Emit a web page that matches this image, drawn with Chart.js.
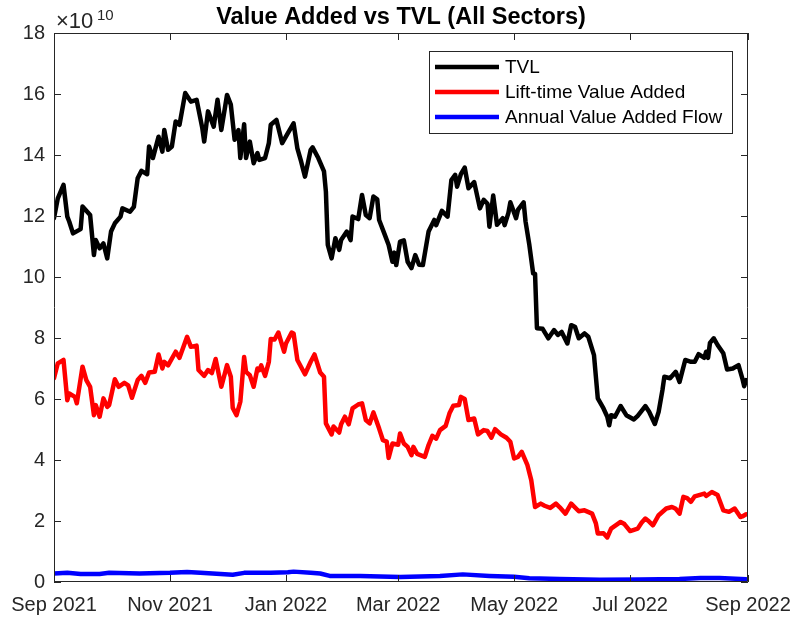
<!DOCTYPE html>
<html>
<head>
<meta charset="utf-8">
<script src="https://cdn.jsdelivr.net/npm/chart.js@4.4.0/dist/chart.umd.min.js"></script>
<style>
  html, body { margin: 0; padding: 0; background: #fff; }
</style>
</head>
<body>
<canvas id="chart" width="796" height="617"></canvas>
<script>
// x = days since 1 Sep 2021, y = value / 1e10
const tickDays = [0, 61, 122, 181, 242, 303, 365];
const tickLabels = ['Sep 2021', 'Nov 2021', 'Jan 2022', 'Mar 2022', 'May 2022', 'Jul 2022', 'Sep 2022'];

const tvlDays = [
  0, 2, 5, 7, 8, 10, 14, 15, 19, 21,
  22, 24, 26, 28, 30, 32, 35, 36, 40, 42,
  44, 46, 49, 50, 52, 55, 57, 58, 60, 62,
  64, 66, 69, 72, 75, 78, 79, 81, 84, 86,
  88, 91, 93, 95, 97, 98, 100, 101, 103, 105,
  107, 108, 111, 113, 114, 117, 120, 123, 126, 128,
  130, 132, 135, 136, 139, 142, 143, 144, 146, 148,
  150, 151, 154, 156, 157, 160, 162, 164, 166, 168,
  170, 171, 174, 176, 178, 179, 180, 182, 184, 186,
  188, 190, 192, 194, 197, 200, 201, 204, 207, 209,
  211, 212, 214, 216, 218, 221, 224, 226, 228, 229,
  231, 233, 236, 237, 239, 240, 243, 244, 247, 248,
  250, 252, 253, 254, 257, 260, 263, 265, 267, 270,
  272, 274, 276, 279, 281, 284, 286, 289, 291, 292,
  293, 295, 298, 301, 305, 307, 311, 313, 316, 318,
  320, 321, 324, 327, 329, 332, 335, 337, 339, 342,
  343, 344, 345, 347, 349, 352, 354, 357, 360, 362,
  363, 364
];
const tvlValues = [
  11.93, 12.58, 13.02, 11.98, 11.82, 11.43, 11.57, 12.31, 12.03, 10.72,
  11.21, 10.94, 11.10, 10.61, 11.49, 11.76, 11.98, 12.25, 12.14, 12.30,
  13.24, 13.48, 13.37, 14.28, 13.90, 14.60, 14.11, 14.82, 14.17, 14.28,
  15.10, 14.99, 16.03, 15.75, 15.81, 14.88, 14.44, 15.43, 14.93, 15.81,
  14.82, 15.97, 15.65, 14.50, 14.82, 13.90, 15.01, 13.90, 14.44, 13.73,
  14.06, 13.84, 13.90, 14.39, 14.99, 15.15, 14.39, 14.72, 15.04, 14.22,
  13.78, 13.29, 14.17, 14.25, 13.90, 13.46, 12.80, 11.05, 10.61, 11.27,
  10.89, 11.21, 11.49, 11.21, 11.98, 11.90, 12.69, 12.03, 11.93, 12.64,
  12.55, 11.87, 11.38, 11.05, 10.50, 10.80, 10.39, 11.16, 11.20, 10.50,
  10.29, 10.72, 10.40, 10.39, 11.49, 11.87, 11.70, 12.17, 11.98, 13.18,
  13.35, 12.96, 13.37, 13.59, 12.91, 13.11, 12.25, 12.53, 12.40, 11.65,
  12.67, 11.71, 11.93, 11.70, 12.10, 12.45, 11.93, 12.20, 12.45, 11.82,
  11.05, 10.12, 10.10, 8.32, 8.30, 7.99, 8.26, 8.10, 8.20, 7.82,
  8.42, 8.37, 7.99, 8.15, 8.04, 7.44, 6.02, 5.69, 5.42, 5.14,
  5.47, 5.42, 5.77, 5.47, 5.33, 5.45, 5.77, 5.58, 5.18, 5.58,
  6.29, 6.73, 6.68, 6.89, 6.56, 7.28, 7.22, 7.22, 7.47, 7.35,
  7.55, 7.35, 7.84, 7.99, 7.77, 7.50, 6.97, 7.00, 7.11, 6.68,
  6.42, 6.62
];

const liftDays = [
  0, 2, 5, 7, 8, 11, 12, 15, 17, 19,
  21, 22, 24, 26, 28, 29, 32, 34, 37, 39,
  41, 44, 46, 48, 50, 53, 55, 57, 58, 60,
  64, 66, 70, 72, 75, 76, 79, 81, 83, 85,
  88, 91, 93, 94, 96, 98, 100, 101, 103, 105,
  107, 108, 109, 111, 113, 114, 116, 118, 121, 122,
  125, 126, 128, 132, 135, 137, 140, 142, 143, 146,
  147, 150, 151, 153, 155, 157, 160, 162, 164, 166,
  168, 171, 173, 175, 176, 178, 181, 182, 184, 186,
  188, 189, 191, 195, 197, 199, 201, 203, 206, 208,
  210, 213, 214, 216, 218, 221, 223, 226, 228, 230,
  232, 235, 238, 240, 242, 244, 246, 249, 251, 253,
  256, 258, 261, 264, 266, 269, 272, 276, 279, 283,
  285, 286, 289, 291, 293, 298, 300, 303, 307, 309,
  311, 313, 315, 318, 322, 325, 327, 329, 331, 333,
  335, 337, 342, 343, 346, 349, 352, 355, 358, 361,
  362, 364
];
const liftValues = [
  6.68, 7.17, 7.28, 5.96, 6.18, 6.07, 5.86, 7.06, 6.62, 6.40,
  5.47, 5.80, 5.42, 6.02, 5.74, 5.80, 6.65, 6.40, 6.53, 6.45,
  6.04, 6.62, 6.76, 6.53, 6.87, 6.89, 7.46, 7.00, 7.22, 7.10,
  7.55, 7.35, 8.04, 7.71, 7.75, 6.95, 6.76, 6.95, 6.85, 7.31,
  6.40, 7.11, 6.73, 5.71, 5.47, 5.91, 7.38, 6.89, 6.78, 6.40,
  7.00, 6.95, 7.10, 6.76, 7.22, 7.97, 7.95, 8.18, 7.55, 7.82,
  8.18, 8.15, 7.28, 6.81, 7.22, 7.46, 6.87, 6.73, 5.20, 4.84,
  5.10, 4.90, 5.17, 5.42, 5.17, 5.69, 5.82, 5.86, 5.31, 5.20,
  5.56, 5.03, 4.65, 4.60, 4.07, 4.54, 4.50, 4.87, 4.54, 4.43,
  4.16, 4.43, 4.20, 4.10, 4.49, 4.79, 4.70, 4.98, 5.12, 5.53,
  5.78, 5.80, 6.07, 6.00, 5.31, 5.36, 4.84, 4.98, 4.95, 4.73,
  5.01, 4.84, 4.73, 4.60, 4.05, 4.10, 4.27, 3.83, 3.34, 2.46,
  2.57, 2.50, 2.43, 2.57, 2.45, 2.24, 2.57, 2.32, 2.35, 2.24,
  1.92, 1.59, 1.60, 1.46, 1.75, 1.97, 1.90, 1.67, 1.75, 1.94,
  2.08, 1.98, 1.86, 2.19, 2.41, 2.46, 2.40, 2.24, 2.79, 2.75,
  2.63, 2.81, 2.90, 2.82, 2.95, 2.85, 2.35, 2.30, 2.41, 2.13,
  2.15, 2.22
];

const flowDays = [0, 7, 14, 24, 29, 45, 61, 70, 77, 94, 100, 114, 123, 126, 135, 140,
  145, 161, 182, 203, 215, 229, 242, 250, 266, 287, 308, 329, 340, 350, 364];
const flowValues = [0.28, 0.30, 0.26, 0.26, 0.30, 0.28, 0.30, 0.33, 0.30, 0.24, 0.30, 0.30, 0.32, 0.34, 0.30, 0.28,
  0.20, 0.20, 0.16, 0.20, 0.25, 0.20, 0.17, 0.12, 0.10, 0.07, 0.08, 0.10, 0.13, 0.13, 0.09];

const FONT = '"Liberation Sans", Arial, Helvetica, sans-serif';
const AXIS = '#262626';

const toPoints = (days, vals) => days.map((d, i) => ({ x: d, y: vals[i] }));

const line = (label, color, days, vals) => ({
  label,
  data: toPoints(days, vals),
  borderColor: color,
  backgroundColor: color,
  borderWidth: 4.5,
  pointRadius: 0,
  tension: 0,
  borderJoinStyle: 'round',
  borderCapStyle: 'round',
});

// matlab style box, inward ticks, exponent label and legend inside the axes
const matlabBox = {
  id: 'matlabBox',
  afterDraw(chart) {
    const { ctx, chartArea: a, scales: { x, y } } = chart;
    ctx.save();
    ctx.strokeStyle = AXIS;
    ctx.lineWidth = 1;
    ctx.beginPath();
    ctx.rect(a.left + 0.5, a.top + 0.5, a.right - a.left - 1, a.bottom - a.top - 1);
    x.ticks.forEach(t => {
      const px = Math.round(x.getPixelForValue(t.value)) + 0.5;
      ctx.moveTo(px, a.bottom); ctx.lineTo(px, a.bottom - 7);
      ctx.moveTo(px, a.top); ctx.lineTo(px, a.top + 7);
    });
    y.ticks.forEach(t => {
      const py = Math.round(y.getPixelForValue(t.value)) + 0.5;
      ctx.moveTo(a.left, py); ctx.lineTo(a.left + 7, py);
      ctx.moveTo(a.right, py); ctx.lineTo(a.right - 7, py);
    });
    ctx.stroke();

    // exponent
    ctx.fillStyle = AXIS;
    ctx.textBaseline = 'alphabetic';
    ctx.textAlign = 'left';
    ctx.font = '22px ' + FONT;
    ctx.fillText('\u00d710', a.left + 2, 28);
    ctx.font = '15px ' + FONT;
    ctx.fillText('10', a.left + 43, 19.5);

    // legend
    const lx = 429, ly = 51, lw = 303, lh = 82;
    ctx.fillStyle = '#fff';
    ctx.fillRect(lx, ly, lw, lh);
    ctx.strokeRect(lx + 0.5, ly + 0.5, lw, lh);
    ctx.font = '19px ' + FONT;
    ctx.textBaseline = 'middle';
    chart.data.datasets.forEach((ds, i) => {
      const yy = ly + 16 + i * 25;
      ctx.strokeStyle = ds.borderColor;
      ctx.lineWidth = 4.5;
      ctx.beginPath();
      ctx.moveTo(lx + 6, yy); ctx.lineTo(lx + 70, yy);
      ctx.stroke();
      ctx.fillStyle = '#000';
      ctx.fillText(ds.label, lx + 76, yy + 1);
    });
    ctx.restore();
  }
};

new Chart(document.getElementById('chart'), {
  type: 'line',
  data: {
    datasets: [
      line('TVL', '#000000', tvlDays, tvlValues),
      line('Lift-time Value Added', '#ff0000', liftDays, liftValues),
      line('Annual Value Added Flow', '#0000ff', flowDays, flowValues),
    ],
  },
  options: {
    responsive: false,
    animation: false,
    devicePixelRatio: 1,
    layout: { padding: { left: 0, right: 48, top: 0, bottom: 0 } },
    plugins: {
      legend: { display: false },
      tooltip: { enabled: false },
      title: {
        display: true,
        fullSize: false,
        text: 'Value Added vs TVL (All Sectors)',
        color: '#000',
        font: { family: FONT, size: 23.5, weight: 'bold' },
        padding: { top: 3, bottom: 1.8 },
      },
    },
    scales: {
      x: {
        type: 'linear',
        min: 0,
        max: 365,
        grid: { display: false, drawTicks: false },
        border: { display: false },
        afterBuildTicks: s => { s.ticks = tickDays.map(v => ({ value: v })); },
        afterFit: s => { s.height = 35; s.paddingLeft = 0; s.paddingRight = 0; },
        ticks: {
          autoSkip: false,
          maxRotation: 0,
          padding: 11,
          color: AXIS,
          font: { family: FONT, size: 20 },
          callback: v => tickLabels[tickDays.indexOf(v)],
        },
      },
      y: {
        min: 0,
        max: 18,
        grid: { display: false, drawTicks: false },
        border: { display: false },
        afterFit: s => { s.width = 54; s.paddingTop = 0; s.paddingBottom = 0; },
        ticks: {
          stepSize: 2,
          padding: 9,
          color: AXIS,
          font: { family: FONT, size: 20 },
        },
      },
    },
  },
  plugins: [matlabBox],
});
</script>
</body>
</html>
